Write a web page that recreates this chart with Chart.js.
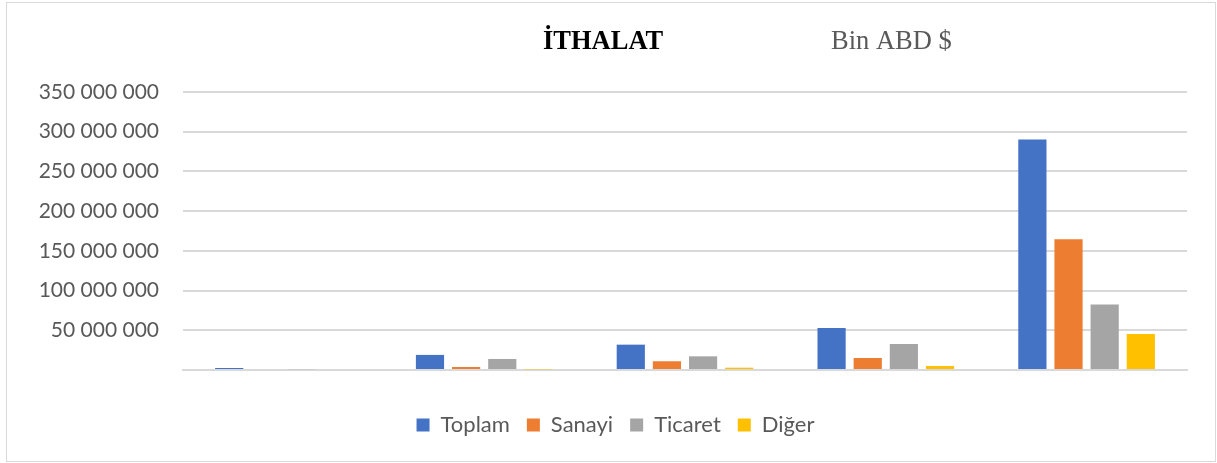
<!DOCTYPE html>
<html>
<head>
<meta charset="utf-8">
<script src="https://cdn.jsdelivr.net/npm/chart.js@4"></script>
<style>
	html, body { margin: 0; padding: 0; background: #fff; }
	#wrap { position: relative; width: 1217px; height: 463px; }
	#frame { position: absolute; left: 6px; top: 2px; width: 1208px; height: 458px; border: 1px solid #d9d9d9; pointer-events: none; }
</style>
</head>
<body>
<div id="wrap">
	<canvas id="chart" width="1217" height="463"></canvas>
	<div id="frame"></div>
</div>
<script>
( function () {
	'use strict';

	var categories = [ '', '', '', '', '' ];
	var toplam = [ 2500000, 19000000, 31900000, 52900000, 290200000 ];
	var sanayi = [ 0, 3800000, 11000000, 15100000, 164600000 ];
	var ticaret = [ 1000000, 13900000, 17200000, 32700000, 82400000 ];
	var diger = [ 0, 800000, 2900000, 5000000, 45300000 ];
	var yTicks = [ 0, 50000000, 100000000, 150000000, 200000000, 250000000, 300000000, 350000000 ];

	function spaced( v ) {
		return String( v ).replace( /\B(?=(\d{3})+(?!\d))/g, ' ' );
	}

	var headerPlugin = {
		id: 'header',
		afterLayout: function ( chart ) {
			// legend sits a little right of the page centre in the original
			if ( chart.legend ) {
				chart.legend.left += 22;
				chart.legend.right += 22;
			}
		},
		afterDraw: function ( chart ) {
			var ctx = chart.ctx;
			ctx.save();
			ctx.textBaseline = 'alphabetic';
			ctx.textAlign = 'left';
			ctx.fillStyle = '#000';
			ctx.font = 'bold 26.5px "Liberation Serif", "Times New Roman", serif';
			ctx.fillText( 'İTHALAT', 543, 49 );
			ctx.fillStyle = '#595959';
			ctx.font = '26.5px "Liberation Serif", "Times New Roman", serif';
			ctx.fillText( 'Bin ABD $', 831, 49 );
			ctx.restore();
		},
	};

	Chart.defaults.font.family = 'Lato, "Open Sans", sans-serif';
	Chart.defaults.color = '#595959';

	new Chart( document.getElementById( 'chart' ), {
		type: 'bar',
		data: {
			labels: categories,
			datasets: [
				{ label: 'Toplam', data: toplam, backgroundColor: '#4472C4' },
				{ label: 'Sanayi', data: sanayi, backgroundColor: '#ED7D31' },
				{ label: 'Ticaret', data: ticaret, backgroundColor: '#A5A5A5' },
				{ label: 'Diğer', data: diger, backgroundColor: '#FFC000' },
			],
		},
		options: {
			responsive: false,
			animation: false,
			devicePixelRatio: 1,
			layout: {
				padding: { top: 92, right: 30, bottom: 17, left: 0 },
			},
			datasets: {
				bar: {
					categoryPercentage: 0.72,
					barPercentage: 0.78,
				},
			},
			plugins: {
				legend: {
					position: 'bottom',
					labels: {
						boxWidth: 13,
						boxHeight: 13,
						padding: 17,
						color: '#595959',
						font: { size: 22 },
					},
				},
				tooltip: { enabled: false },
			},
			scales: {
				x: {
					ticks: { display: false },
					grid: { display: false },
					border: { display: true, color: '#d9d9d9', width: 2 },
					afterFit: function ( axis ) {
						axis.height += 19;
					},
				},
				y: {
					min: 0,
					max: 350000000,
					afterBuildTicks: function ( axis ) {
						axis.ticks = yTicks.map( function ( v ) {
							return { value: v };
						} );
					},
					afterFit: function ( axis ) {
						axis.width = 183;
					},
					ticks: {
						padding: 24,
						color: '#595959',
						font: { size: 21 },
						callback: function ( v ) {
							return v === 0 ? '' : spaced( v );
						},
					},
					grid: {
						drawTicks: false,
						color: '#d9d9d9',
						lineWidth: 2,
					},
					border: { display: false },
				},
			},
		},
		plugins: [ headerPlugin ],
	} );
}() );
</script>
</body>
</html>
